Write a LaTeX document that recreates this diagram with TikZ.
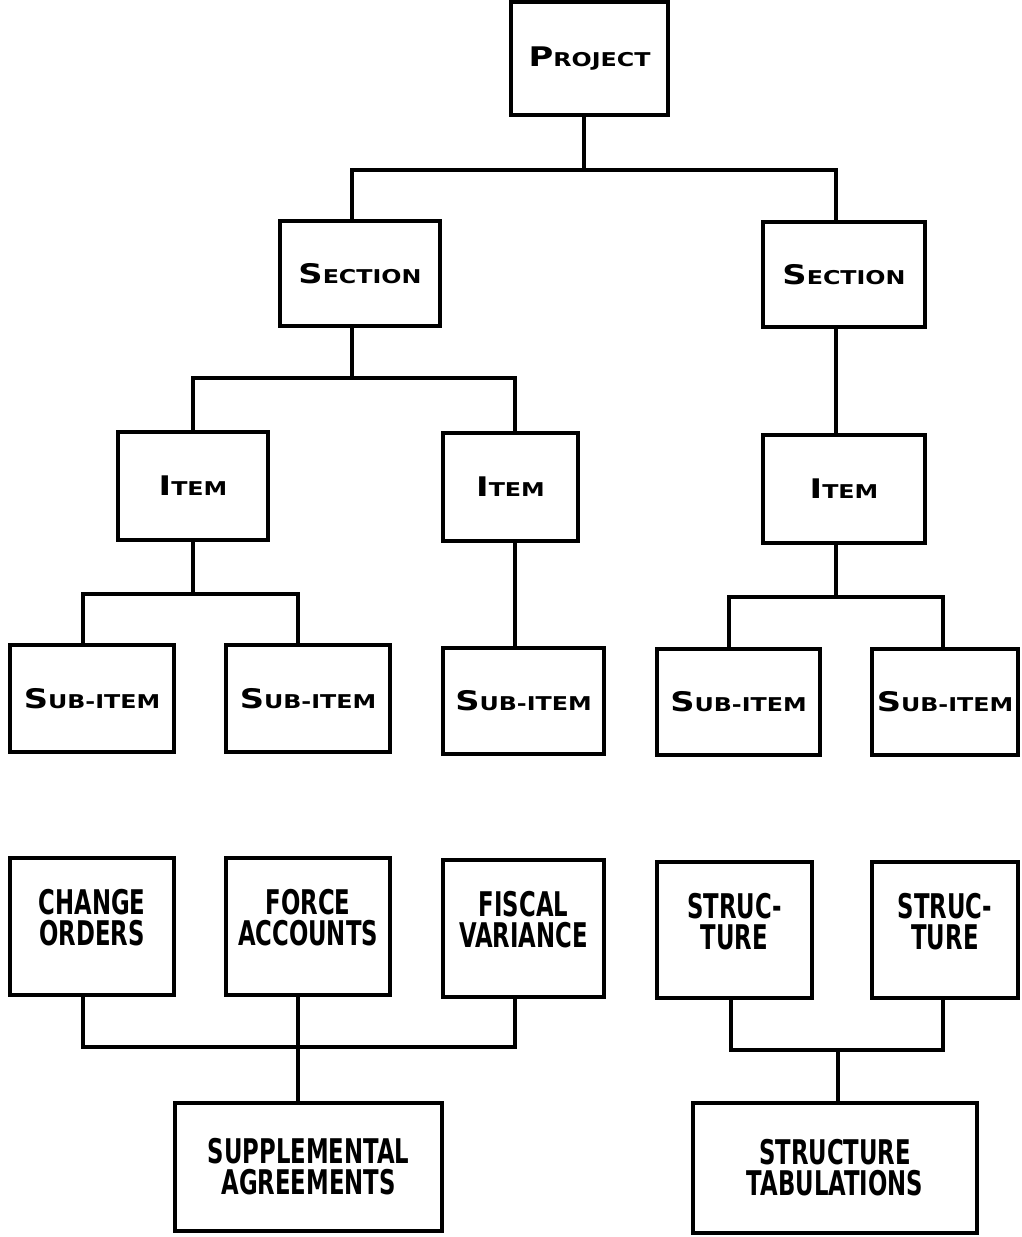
\documentclass[tikz,border=0pt]{standalone}
\usepackage{fontspec}
\setmainfont{DejaVu Sans}
\usepackage{graphicx}

% small caps faked: first letter large, rest small
\newcommand{\smcap}[2]{\scalebox{1.25}[1]{{\fontsize{27}{27}\selectfont #1}{\fontsize{19}{19}\selectfont #2}}}
% narrow two line label
\newcommand{\twoline}[2]{\scalebox{0.67}[1]{\vbox{\fontsize{34}{31}\selectfont
  \halign{\hfil##\hfil\cr #1\cr #2\cr}}}}

\tikzset{
  box/.style={draw, line width=3.2pt, rectangle, inner sep=0pt, font=\bfseries},
  lowbox/.style={box, text depth=18pt},
  link/.style={line width=3.2pt},
}

\begin{document}
\begin{tikzpicture}[x=1pt, y=-1pt]
  \useasboundingbox (0,0) rectangle (1021,1237);

  % --- top of the tree ---
  \node[box, minimum width=157, minimum height=113] (project) at (589.5,58.5) {\smcap{P}{ROJECT}};
  \node[box, minimum width=160, minimum height=105] (secL) at (360,273.5) {\smcap{S}{ECTION}};
  \node[box, minimum width=162, minimum height=105] (secR) at (844,274.5) {\smcap{S}{ECTION}};

  % --- items ---
  \node[box, minimum width=150, minimum height=108] (itemA) at (193,486) {\smcap{I}{TEM}};
  \node[box, minimum width=135, minimum height=108] (itemB) at (510.5,487) {\smcap{I}{TEM}};
  \node[box, minimum width=162, minimum height=108] (itemC) at (844,489) {\smcap{I}{TEM}};

  % --- sub-items ---
  \node[box, minimum width=164, minimum height=107] (subA) at (92,698.5) {\smcap{S}{UB-ITEM}};
  \node[box, minimum width=164, minimum height=107] (subB) at (308,698.5) {\smcap{S}{UB-ITEM}};
  \node[box, minimum width=161, minimum height=106] (subC) at (523.5,701) {\smcap{S}{UB-ITEM}};
  \node[box, minimum width=163, minimum height=106] (subD) at (738.5,702) {\smcap{S}{UB-ITEM}};
  \node[box, minimum width=146, minimum height=106] (subE) at (945,702) {\smcap{S}{UB-ITEM}};

  % --- records ---
  \node[lowbox, minimum width=164, minimum height=137] (chg) at (92,926.5) {\twoline{CHANGE}{ORDERS}};
  \node[lowbox, minimum width=164, minimum height=137] (frc) at (308,926.5) {\twoline{FORCE}{ACCOUNTS}};
  \node[lowbox, minimum width=161, minimum height=137] (fis) at (523.5,928.5) {\twoline{FISCAL}{VARIANCE}};
  \node[lowbox, minimum width=155, minimum height=136] (strA) at (734.5,930) {\twoline{STRUC-}{TURE}};
  \node[lowbox, minimum width=146, minimum height=136] (strB) at (945,930) {\twoline{STRUC-}{TURE}};

  \node[box, minimum width=267, minimum height=128] (supp) at (308.5,1167) {\twoline{SUPPLEMENTAL}{AGREEMENTS}};
  \node[box, minimum width=284, minimum height=130] (tab) at (835,1168) {\twoline{STRUCTURE}{TABULATIONS}};

  % bus junctions
  \coordinate (j1) at (584,170);
  \coordinate (j2) at (352,378);
  \coordinate (j3) at (193,594);
  \coordinate (j4) at (836,597);
  \coordinate (j5) at (298,1047);
  \coordinate (j6) at (838,1050);

  % --- connectors ---
  \draw[link] ([xshift=-5.5]project.south) -- (j1);
  \draw[link] ([xshift=-8]secL.north) |- (j1) -| ([xshift=-8]secR.north);
  \draw[link] ([xshift=-8]secL.south) -- (j2);
  \draw[link] (itemA.north) |- (j2) -| ([xshift=4.5]itemB.north);
  \draw[link] ([xshift=-8]secR.south) -- ([xshift=-8]itemC.north);
  \draw[link] (itemA.south) -- (j3);
  \draw[link] ([xshift=-9]subA.north) |- (j3) -| ([xshift=-10]subB.north);
  \draw[link] ([xshift=4.5]itemB.south) -- ([xshift=-8.5]subC.north);
  \draw[link] ([xshift=-8]itemC.south) -- (j4);
  \draw[link] ([xshift=-9.5]subD.north) |- (j4) -| ([xshift=-2]subE.north);
  \draw[link] ([xshift=-9]chg.south) |- (j5) -| ([xshift=-8.5]fis.south);
  \draw[link] ([xshift=-10]frc.south) -- ([xshift=-10.5]supp.north);
  \draw[link] ([xshift=-3.5]strA.south) |- (j6) -| ([xshift=-2]strB.south);
  \draw[link] (j6) -- ([xshift=3]tab.north);
\end{tikzpicture}
\end{document}
